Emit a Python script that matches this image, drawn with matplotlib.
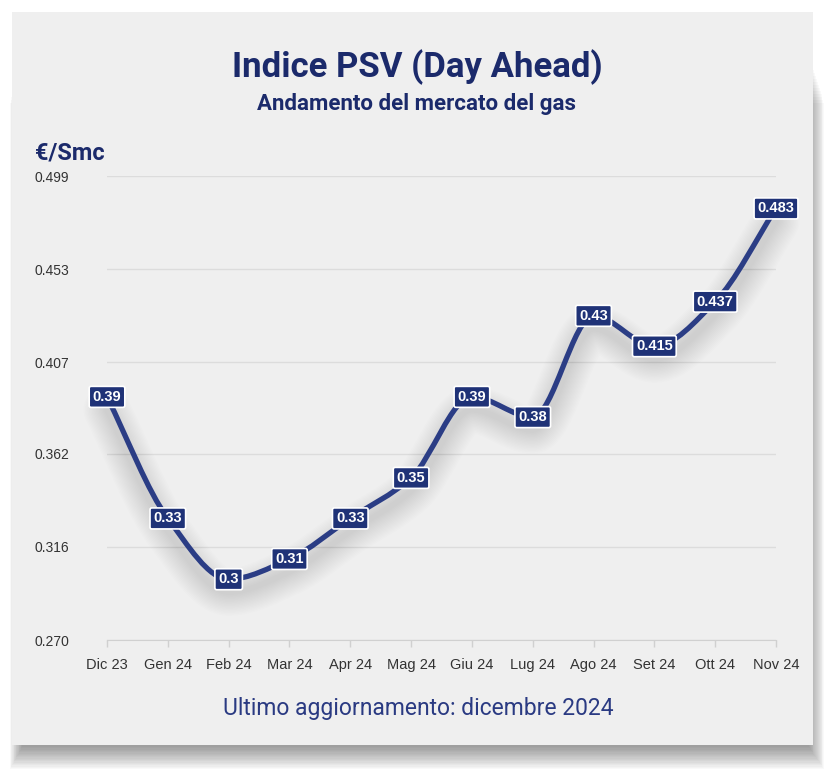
import numpy as np
import matplotlib
matplotlib.use("Agg")
import matplotlib.pyplot as plt
from matplotlib.path import Path
from matplotlib.patches import PathPatch, Rectangle
import matplotlib.transforms as mtransforms

# ---- data ----
months = ["Dic 23", "Gen 24", "Feb 24", "Mar 24", "Apr 24", "Mag 24",
          "Giu 24", "Lug 24", "Ago 24", "Set 24", "Ott 24", "Nov 24"]
prices = [0.39, 0.33, 0.30, 0.31, 0.33, 0.35, 0.39, 0.38, 0.43, 0.415, 0.437, 0.483]
price_labels = ["0.39", "0.33", "0.3", "0.31", "0.33", "0.35", "0.39", "0.38",
                "0.43", "0.415", "0.437", "0.483"]
y_ticks = [0.270, 0.316, 0.362, 0.407, 0.453, 0.499]
y_tick_labels = ["0.270", "0.316", "0.362", "0.407", "0.453", "0.499"]

title = "Indice PSV (Day Ahead)"
subtitle = "Andamento del mercato del gas"
unit = "€/Smc"
footer = "Ultimo aggiornamento: dicembre 2024"

NAVY = "#1b2a6b"
LINE = "#2b3d85"
BOX = "#1f3277"

W, H = 829, 770
fig = plt.figure(figsize=(W / 100, H / 100), dpi=100)
fig.patch.set_facecolor("white")

# ---- card with shadow ----
cx0, cy0, cx1, cy1 = 12, 12, 813, 745
for i in range(18):
    left = cx0 + 10 - i * 0.7
    right = cx1 - 4 + i * 0.9
    top = cy0 + 40 + i * 3
    bottom = cy1 + 2 + i * 1.3
    r = Rectangle((left / W, 1 - bottom / H), (right - left) / W,
                  (bottom - top) / H, transform=fig.transFigure,
                  facecolor="black", edgecolor="none", alpha=0.022, zorder=-3)
    fig.add_artist(r)
card = Rectangle((cx0 / W, 1 - cy1 / H), (cx1 - cx0) / W, (cy1 - cy0) / H,
                 transform=fig.transFigure, facecolor="#efefef",
                 edgecolor="none", zorder=-2)
fig.add_artist(card)

# ---- axes ----
ax = fig.add_axes([107 / W, 1 - 640 / H, (776 - 107) / W, (640 - 176) / H])
ax.set_facecolor("none")
n = len(prices)
x = np.arange(n)
ax.set_xlim(0, n - 1)
ax.set_ylim(y_ticks[0], y_ticks[-1])

ax.set_yticks(y_ticks)
ax.set_yticklabels(y_tick_labels)
ax.tick_params(axis="y", length=0, pad=72 * 0.72, labelsize=10,
               labelcolor="#333333")
for lbl in ax.get_yticklabels():
    lbl.set_horizontalalignment("left")
    lbl.set_fontfamily("Liberation Sans")

ax.set_xticks(x)
ax.set_xticklabels(months)
ax.tick_params(axis="x", length=5, width=1, color="#d0d0d0", pad=8,
               labelsize=10.5, labelcolor="#333333")
for lbl in ax.get_xticklabels():
    lbl.set_fontfamily("Liberation Sans")

ax.grid(axis="y", color="#dcdcdc", lw=1)
ax.set_axisbelow(True)
for s in ["top", "right", "left"]:
    ax.spines[s].set_visible(False)
ax.spines["bottom"].set_color("#d0d0d0")

# ---- smooth monotone curve built from the data ----
y = np.array(prices, dtype=float)
d = np.diff(y)
m = np.zeros(n)
m[0] = d[0]
m[-1] = d[-1]
for i in range(1, n - 1):
    if d[i - 1] * d[i] <= 0:
        m[i] = 0.0
    else:
        m[i] = 2.0 / (1.0 / d[i - 1] + 1.0 / d[i])
verts = [(x[0], y[0])]
codes = [Path.MOVETO]
for i in range(n - 1):
    verts += [(x[i] + 1 / 3, y[i] + m[i] / 3),
              (x[i + 1] - 1 / 3, y[i + 1] - m[i + 1] / 3),
              (x[i + 1], y[i + 1])]
    codes += [Path.CURVE4] * 3
path = Path(verts, codes)

# soft shadow below the line
shadow_tr = ax.transData + mtransforms.ScaledTranslation(0, -0.13, fig.dpi_scale_trans)
for lw in np.linspace(4, 34, 16):
    ax.add_patch(PathPatch(path, facecolor="none", edgecolor="#000000",
                           lw=lw, alpha=0.009, transform=shadow_tr,
                           capstyle="round", joinstyle="round", zorder=2,
                           clip_on=False))

ax.add_patch(PathPatch(path, facecolor="none", edgecolor=LINE, lw=3.8,
                       capstyle="butt", joinstyle="round", zorder=3,
                       clip_on=False))

for xi, yi, lab in zip(x, prices, price_labels):
    ax.text(xi, yi, lab, ha="center", va="center", color="white",
            fontsize=10.5, fontweight="bold", family="Liberation Sans",
            zorder=6, clip_on=False,
            bbox=dict(boxstyle="round,pad=0.24,rounding_size=0.12",
                      fc=BOX, ec="white", lw=1.2))

# ---- texts ----
fig.text(417 / W, 1 - 67 / H, title, ha="center", va="center",
         fontsize=25, fontweight="bold", color=NAVY, family="Roboto")
fig.text(417 / W, 1 - 104 / H, subtitle, ha="center", va="center",
         fontsize=16, fontweight="bold", color=NAVY, family="Roboto")
fig.text(35 / W, 1 - 153 / H, unit, ha="left", va="center",
         fontsize=17, fontweight="bold", color=NAVY, family="Roboto")
fig.text(418 / W, 1 - 708 / H, footer, ha="center", va="center",
         fontsize=16.5, fontweight="normal", color="#2a3a82", family="Roboto")

fig.savefig("out.png", dpi=100, facecolor="white")
